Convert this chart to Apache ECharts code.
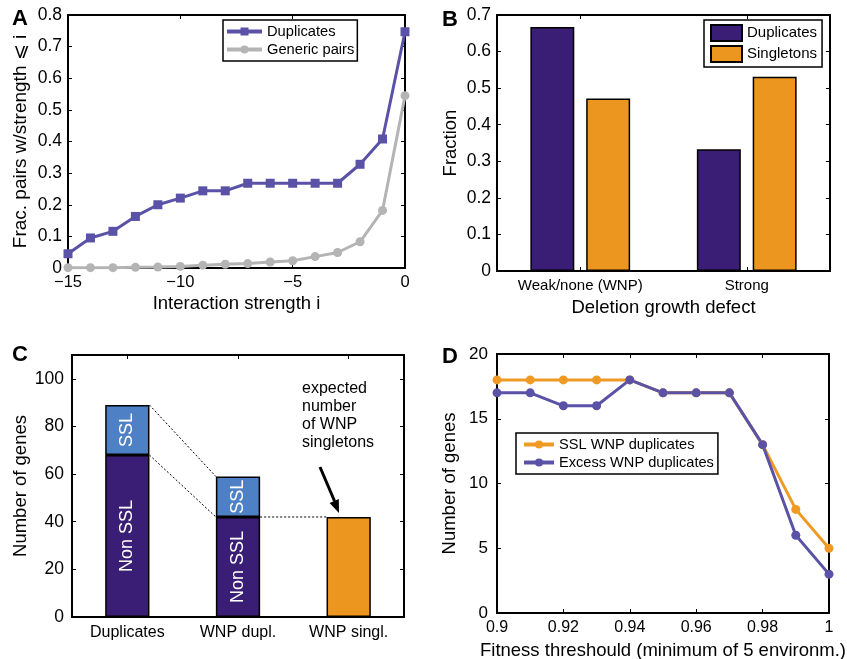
<!DOCTYPE html>
<html>
<head>
<meta charset="utf-8">
<script src="https://cdn.jsdelivr.net/npm/echarts@6/dist/echarts.min.js"></script>
<style>
html,body{margin:0;padding:0;background:#fff;}
#main{width:847px;height:659px;}
</style>
</head>
<body>
<div id="main"></div>
<script>
// ---------- Panel A data ----------
const aStrength = [-15,-14,-13,-12,-11,-10,-9,-8,-7,-6,-5,-4,-3,-2,-1,0];
const aDuplicates = [0.045,0.095,0.116,0.163,0.200,0.221,0.244,0.244,0.268,0.268,0.268,0.268,0.268,0.328,0.408,0.747];
const aGeneric = [0.001,0.001,0.001,0.002,0.003,0.005,0.009,0.012,0.014,0.019,0.023,0.036,0.049,0.083,0.182,0.545];

// ---------- Panel B data ----------
const bCategories = ['Weak/none (WNP)', 'Strong'];
const bDuplicates = [0.667, 0.333];
const bSingletons = [0.472, 0.531];

// ---------- Panel C data ----------
const cCategories = ['Duplicates', 'WNP dupl.', 'WNP singl.'];
const cNonSSL = [68, 42, '-'];
const cSSL = [21, 17, '-'];
const cSingletons = ['-', '-', 42];

// ---------- Panel D data ----------
const dThreshold = [0.90,0.91,0.92,0.93,0.94,0.95,0.96,0.97,0.98,0.99,1.00];
const dSSL = [18,18,18,18,18,17,17,17,13,8,5];
const dExcess = [17,17,16,16,18,17,17,17,13,6,3];

const FONT = 'Liberation Sans, Arial, Helvetica, sans-serif';
const purpleLine = '#5a52a6';
const grayLine = '#b4b4b4';
const darkPurple = '#3a1d74';
const orange = '#ec961f';
const lightBlue = '#4d80c4';
const orangeLine = '#f09a26';

const axisLine = {show: true, onZero: false, lineStyle: {color: '#000', width: 2}};
const tickIn = {show: true, inside: true, length: 4, lineStyle: {color: '#000', width: 1}};
const lbl = (size) => ({color: '#000', fontFamily: FONT, fontSize: size});
const nameStyle = {color: '#000', fontFamily: FONT, fontSize: 18.5};

function boxAxes(grid, type, xOpts, yOpts) {
  // secondary top x and right y axes for a closed MATLAB-like box
  return {
    x: Object.assign({gridIndex: grid, position: 'top', type: type, axisLine: axisLine, axisTick: tickIn,
      axisLabel: {show: false}, splitLine: {show: false}}, xOpts),
    y: Object.assign({gridIndex: grid, position: 'right', type: 'value', axisLine: axisLine, axisTick: tickIn,
      axisLabel: {show: false}, splitLine: {show: false}}, yOpts)
  };
}

const boxA = boxAxes(0, 'value', {min: -15, max: 0, interval: 5}, {min: 0, max: 0.8, interval: 0.1});
const boxB = boxAxes(1, 'category', {data: bCategories, axisTick: Object.assign({}, tickIn, {alignWithLabel: true})}, {min: 0, max: 0.7, interval: 0.1});
const boxC = boxAxes(2, 'category', {data: cCategories, axisTick: Object.assign({}, tickIn, {alignWithLabel: true})}, {min: 0, max: 110, interval: 20});
const boxD = boxAxes(3, 'value', {min: 0.9, max: 1, interval: 0.02}, {min: 0, max: 20, interval: 5});

const chart = echarts.init(document.getElementById('main'), null, {renderer: 'canvas'});

const option = {
  backgroundColor: '#fff',
  animation: false,
  textStyle: {fontFamily: FONT},
  grid: [
    {left: 68, top: 15, width: 337, height: 253, outerBoundsMode: 'none'},
    {left: 497, top: 15, width: 333, height: 256, outerBoundsMode: 'none'},
    {left: 72, top: 355, width: 332, height: 262, outerBoundsMode: 'none'},
    {left: 497, top: 354, width: 332, height: 259, outerBoundsMode: 'none'}
  ],
  xAxis: [
    {gridIndex: 0, type: 'value', min: -15, max: 0, interval: 5, axisLine: axisLine, axisTick: tickIn,
      splitLine: {show: false},
      axisLabel: Object.assign(lbl(16.5), {margin: 6, formatter: v => String(v).replace('-', '\u2212')}),
      name: 'Interaction strength i', nameLocation: 'middle', nameGap: 26, nameTextStyle: nameStyle},
    {gridIndex: 1, type: 'category', data: bCategories, axisLine: axisLine,
      axisTick: Object.assign({}, tickIn, {alignWithLabel: true}),
      axisLabel: Object.assign(lbl(15), {margin: 7}),
      name: 'Deletion growth defect', nameLocation: 'middle', nameGap: 27, nameTextStyle: nameStyle},
    {gridIndex: 2, type: 'category', data: cCategories, axisLine: axisLine,
      axisTick: Object.assign({}, tickIn, {alignWithLabel: true}),
      axisLabel: Object.assign(lbl(16), {margin: 8})},
    {gridIndex: 3, type: 'value', min: 0.9, max: 1, interval: 0.02, axisLine: axisLine, axisTick: tickIn,
      splitLine: {show: false},
      axisLabel: Object.assign(lbl(16), {margin: 7, formatter: v => String(parseFloat(v.toFixed(2)))}),
      name: 'Fitness threshould (minimum of 5 environm.)', nameLocation: 'middle', nameGap: 28, nameTextStyle: nameStyle},
    boxA.x, boxB.x, boxC.x, boxD.x
  ],
  yAxis: [
    {gridIndex: 0, type: 'value', min: 0, max: 0.8, interval: 0.1, axisLine: axisLine, axisTick: tickIn,
      splitLine: {show: false}, axisLabel: Object.assign(lbl(17.5), {margin: 6}),
      name: 'Frac. pairs w/strength \u2a7d i', nameLocation: 'middle', nameGap: 38,
      nameTextStyle: Object.assign({}, nameStyle, {fontSize: 19})},
    {gridIndex: 1, type: 'value', min: 0, max: 0.7, interval: 0.1, axisLine: axisLine, axisTick: tickIn,
      splitLine: {show: false}, axisLabel: Object.assign(lbl(17.5), {margin: 6}),
      name: 'Fraction', nameLocation: 'middle', nameGap: 37, nameTextStyle: nameStyle},
    {gridIndex: 2, type: 'value', min: 0, max: 110, interval: 20, axisLine: axisLine, axisTick: tickIn,
      splitLine: {show: false}, axisLabel: Object.assign(lbl(17.5), {margin: 8, showMaxLabel: false}),
      name: 'Number of genes', nameLocation: 'middle', nameGap: 40, nameTextStyle: nameStyle},
    {gridIndex: 3, type: 'value', min: 0, max: 20, interval: 5, axisLine: axisLine, axisTick: tickIn,
      splitLine: {show: false}, axisLabel: Object.assign(lbl(17), {margin: 9}),
      name: 'Number of genes', nameLocation: 'middle', nameGap: 38, nameTextStyle: nameStyle},
    boxA.y, boxB.y, boxC.y, boxD.y
  ],
  legend: [
    {left: 223, top: 20, orient: 'vertical', data: ['Duplicates', 'Generic pairs'],
      itemWidth: 35, itemHeight: 10, itemGap: 3, padding: [4, 3, 4, 2],
      lineStyle: {width: 4},
      borderColor: '#000', borderWidth: 1.5, backgroundColor: '#fff',
      textStyle: {fontFamily: FONT, fontSize: 14.7, color: '#000'}},
    {left: 704, top: 20, orient: 'vertical', data: ['Duplicates ', 'Singletons'],
      icon: 'rect', itemWidth: 31, itemHeight: 16, itemGap: 3, padding: [4, 5, 4, 6],
      borderColor: '#000', borderWidth: 1.5, backgroundColor: '#fff',
      formatter: n => n.trim(),
      textStyle: {fontFamily: FONT, fontSize: 15, color: '#000'}},
    {left: 516, top: 433, orient: 'vertical', data: ['SSL WNP duplicates', 'Excess WNP duplicates'],
      itemWidth: 30, itemHeight: 10, itemGap: 3, padding: [4, 4, 4, 6],
      lineStyle: {width: 4},
      borderColor: '#000', borderWidth: 1.5, backgroundColor: '#fff',
      textStyle: {fontFamily: FONT, fontSize: 14.6, color: '#000'}}
  ],
  series: [
    // Panel A
    {name: 'Generic pairs', type: 'line', xAxisIndex: 0, yAxisIndex: 0,
      data: aStrength.map((x, i) => [x, aGeneric[i]]),
      symbol: 'circle', symbolSize: 9, color: grayLine, lineStyle: {width: 3, color: grayLine},
      itemStyle: {color: grayLine}},
    {name: 'Duplicates', type: 'line', xAxisIndex: 0, yAxisIndex: 0,
      data: aStrength.map((x, i) => [x, aDuplicates[i]]),
      symbol: 'rect', symbolSize: 9, color: purpleLine, lineStyle: {width: 3, color: purpleLine},
      itemStyle: {color: purpleLine}},
    // Panel B
    {name: 'Duplicates ', type: 'bar', xAxisIndex: 1, yAxisIndex: 1, data: bDuplicates,
      barWidth: '26.4%', barGap: '27%', color: darkPurple,
      itemStyle: {color: darkPurple, borderColor: '#000', borderWidth: 1.5}},
    {name: 'Singletons', type: 'bar', xAxisIndex: 1, yAxisIndex: 1, data: bSingletons,
      barWidth: '26.4%', barGap: '27%', color: orange,
      itemStyle: {color: orange, borderColor: '#000', borderWidth: 1.5}},
    // Panel C
    {name: 'Non SSL', type: 'bar', stack: 'c', xAxisIndex: 2, yAxisIndex: 2, data: cNonSSL,
      barWidth: '40%', itemStyle: {color: darkPurple, borderColor: '#000', borderWidth: 1.5},
      label: {show: true, position: 'inside', rotate: 90, color: '#fff', fontFamily: FONT, fontSize: 18,
        formatter: p => p.seriesName}},
    {name: 'SSL', type: 'bar', stack: 'c', xAxisIndex: 2, yAxisIndex: 2, data: cSSL,
      barWidth: '40%', itemStyle: {color: lightBlue, borderColor: '#000', borderWidth: 1.5},
      label: {show: true, position: 'inside', rotate: 90, color: '#fff', fontFamily: FONT, fontSize: 18,
        formatter: p => p.seriesName}},
    {name: 'WNP singletons', type: 'bar', stack: 'c', xAxisIndex: 2, yAxisIndex: 2, data: cSingletons,
      barWidth: '40%', itemStyle: {color: orange, borderColor: '#000', borderWidth: 1.5}},
    {name: 'connectors', type: 'custom', xAxisIndex: 2, yAxisIndex: 2, silent: true, z: 1,
      data: [
        [0, cNonSSL[0] + cSSL[0], 1, cNonSSL[1] + cSSL[1]],
        [0, cNonSSL[0], 1, cNonSSL[1]],
        [1, cNonSSL[1], 2, cSingletons[2]]
      ],
      encode: {x: 0, y: 1},
      renderItem: (params, api) => {
        const p0 = api.coord([api.value(0), api.value(1)]);
        const p1 = api.coord([api.value(2), api.value(3)]);
        const half = api.size([1, 0])[0] * 0.4 / 2;
        return {type: 'line', shape: {x1: p0[0] + half, y1: p0[1], x2: p1[0] - half, y2: p1[1]},
          style: {stroke: '#000', lineWidth: 1, lineDash: [2, 2]}};
      }},
    // Panel D
    {name: 'SSL WNP duplicates', type: 'line', xAxisIndex: 3, yAxisIndex: 3,
      data: dThreshold.map((x, i) => [x, dSSL[i]]),
      symbol: 'circle', symbolSize: 9, color: orangeLine, lineStyle: {width: 3, color: orangeLine},
      itemStyle: {color: orangeLine}},
    {name: 'Excess WNP duplicates', type: 'line', xAxisIndex: 3, yAxisIndex: 3,
      data: dThreshold.map((x, i) => [x, dExcess[i]]),
      symbol: 'circle', symbolSize: 9, color: purpleLine, lineStyle: {width: 3, color: purpleLine},
      itemStyle: {color: purpleLine}}
  ],
  graphic: [
    {type: 'text', left: 12, top: 8, style: {text: 'A', fontFamily: FONT, fontSize: 22, fontWeight: 'bold', fill: '#000'}},
    {type: 'text', left: 442, top: 9, style: {text: 'B', fontFamily: FONT, fontSize: 22, fontWeight: 'bold', fill: '#000'}},
    {type: 'text', left: 12, top: 344, style: {text: 'C', fontFamily: FONT, fontSize: 22, fontWeight: 'bold', fill: '#000'}},
    {type: 'text', left: 442, top: 346, style: {text: 'D', fontFamily: FONT, fontSize: 22, fontWeight: 'bold', fill: '#000'}},
    {type: 'text', left: 302, top: 379, style: {text: 'expected\nnumber\nof WNP\nsingletons', fontFamily: FONT, fontSize: 16, lineHeight: 18.3, fill: '#000'}},
    {type: 'line', shape: {x1: 320, y1: 467, x2: 334.5, y2: 501}, style: {stroke: '#000', lineWidth: 3}},
    {type: 'polygon', shape: {points: [[329.6, 503.0], [338.8, 499.0], [339, 513]]}, style: {fill: '#000'}}
  ]
};

chart.setOption(option);
</script>
</body>
</html>
